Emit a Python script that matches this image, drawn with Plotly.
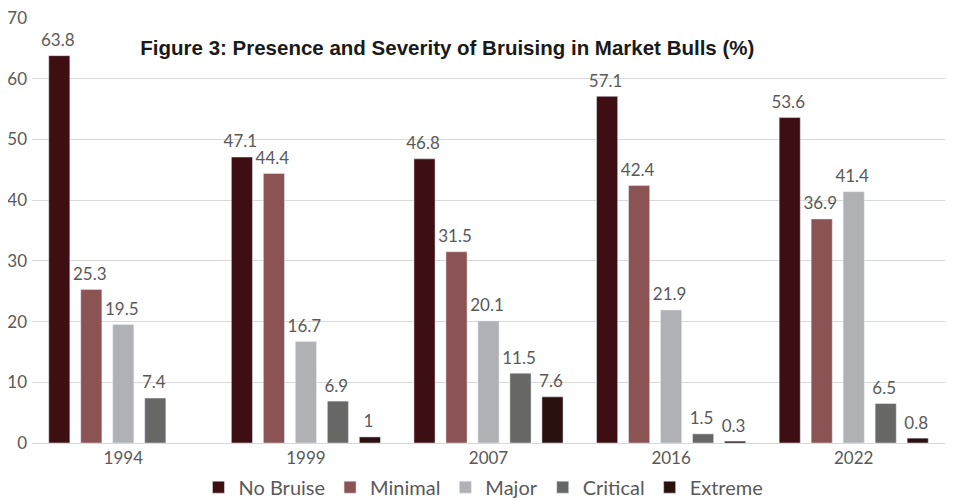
import plotly.graph_objects as go

years = ["1994", "1999", "2007", "2016", "2022"]
no_bruise = [63.8, 47.1, 46.8, 57.1, 53.6]
minimal = [25.3, 44.4, 31.5, 42.4, 36.9]
major = [19.5, 16.7, 20.1, 21.9, 41.4]
critical = [7.4, 6.9, 11.5, 1.5, 6.5]
extreme = [None, 1, 7.6, 0.3, 0.8]

series = [
    ("No Bruise", no_bruise, "#3e0f12"),
    ("Minimal", minimal, "#8b5353"),
    ("Major", major, "#b0b1b5"),
    ("Critical", critical, "#676765"),
    ("Extreme", extreme, "#2a1110"),
]

font_family = "Lato, Open Sans, sans-serif"
fig = go.Figure()
for name, vals, color in series:
    fig.add_trace(go.Bar(
        name=name, x=years, y=vals, marker_color=color,
        text=[("" if v is None else f"{v:g}<sub>\u00a0</sub>") for v in vals],
        textposition="outside", cliponaxis=False, constraintext="none",
        textfont=dict(size=17, color="#595959", family=font_family),
    ))

fig.update_layout(
    width=953, height=498,
    margin=dict(l=24, r=16, t=10, b=63, autoexpand=False),
    paper_bgcolor="white", plot_bgcolor="white",
    barmode="group", bargap=0.124, bargroupgap=0.34,
    font=dict(family=font_family, color="#595959", size=17),
    title=dict(text="<b>Figure 3: Presence and Severity of Bruising in Market Bulls (%)</b>",
               x=0.461, xanchor="center", y=0.92, yanchor="middle",
               font=dict(family="Liberation Sans, Arial, sans-serif", size=20.5, color="#1a1a1a")),
    legend=dict(orientation="h", x=0.4945, xanchor="center", y=-0.058, yanchor="top",
                font=dict(size=20, color="#595959"), traceorder="normal"),
    showlegend=True,
)
fig.update_yaxes(range=[0, 70], dtick=10, showgrid=True, gridcolor="#d9d9d9", gridwidth=1,
                 zeroline=False, showline=False, tickfont=dict(size=17, color="#595959"),
                 ticks="", automargin=False, ticklabelstandoff=4, ticklabeloverflow="allow")
fig.update_xaxes(showline=True, linecolor="#d9d9d9", linewidth=1,
                 tickfont=dict(size=17, color="#595959"), ticks="", automargin=False)

fig.write_html("out.html")
